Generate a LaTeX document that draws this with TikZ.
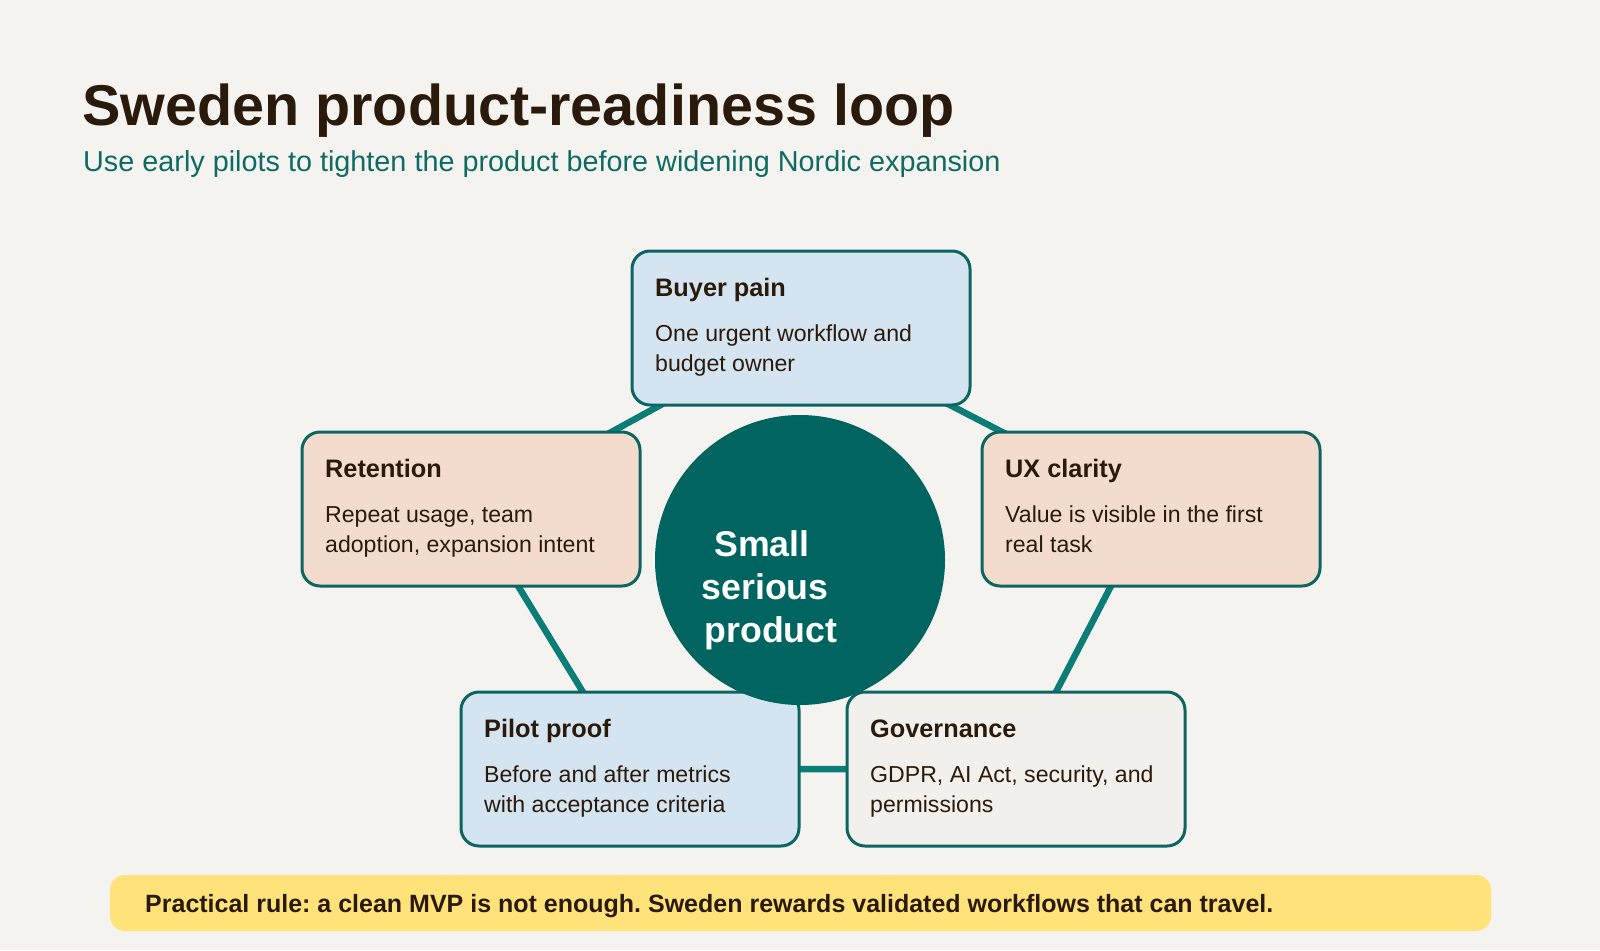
\documentclass[tikz,border=0pt]{standalone}
\usepackage{fontspec}
\setmainfont{Liberation Sans}
\frenchspacing
\pgfdeclarelayer{bg}
\pgfdeclarelayer{edges}
\pgfsetlayers{bg,edges,main}
\definecolor{bgc}{HTML}{F5F3EF}
\definecolor{titlec}{HTML}{2A1A0B}
\definecolor{subc}{HTML}{0E6B63}
\definecolor{bluec}{HTML}{D4E4F1}
\definecolor{peachc}{HTML}{F3DCCE}
\definecolor{grayc}{HTML}{F2F0EC}
\definecolor{borderc}{HTML}{0D6562}
\definecolor{connc}{HTML}{0A7D76}
\definecolor{circc}{HTML}{006560}
\definecolor{yellowc}{HTML}{FFE27A}
\tikzset{
  cardbox/.style={draw=borderc, line width=3pt, rounded corners=18pt,
    minimum width=338pt, minimum height=154pt, inner sep=0pt, outer sep=0pt,
    anchor=north west},
  cardtitle/.style={anchor=base west, inner sep=0pt, text=titlec,
    font=\fontsize{25.3}{30}\selectfont\bfseries},
  cardbody/.style={anchor=base west, inner sep=0pt, text=titlec,
    font=\fontsize{23.1}{30}\selectfont},
  conn/.style={draw=connc, line width=6.5pt},
  coretext/.style={anchor=base, inner sep=0pt, text=white,
    font=\fontsize{35.7}{40}\selectfont\bfseries},
}
\newcommand\mkcard[7]{%
  \node[cardbox, fill=#4] (#1) at (#2,#3) {};
  \node[cardtitle] (#1-t) at ([xshift=23pt,yshift=-45pt]#1.north west) {#5};
  \node[cardbody] (#1-a) at ([xshift=23pt,yshift=-90pt]#1.north west) {#6};
  \node[cardbody] (#1-b) at ([xshift=23pt,yshift=-120pt]#1.north west) {#7};
}
\begin{document}
\begin{tikzpicture}[x=1pt,y=-1pt]
\begin{pgfonlayer}{bg}
  \fill[bgc] (0,0) rectangle (1600,950);
\end{pgfonlayer}
\useasboundingbox (0,0) rectangle (1600,950);

\node[anchor=base west, inner sep=0pt, text=titlec,
  font=\fontsize{57.5}{64}\selectfont\bfseries] (title) at (82,125)
  {Sweden product-readiness loop};
\node[anchor=base west, inner sep=0pt, text=subc,
  font=\fontsize{28.8}{32}\selectfont] (subtitle) at (83,171)
  {Use early pilots to tighten the product before widening Nordic expansion};

\mkcard{buyer}{632}{251}{bluec}{Buyer pain}{One urgent workflow and}{budget owner}
\mkcard{retention}{302}{432}{peachc}{Retention}{Repeat usage, team}{adoption, expansion intent}
\mkcard{ux}{982}{432}{peachc}{UX clarity}{Value is visible in the first}{real task}
\mkcard{pilot}{461}{692}{bluec}{Pilot proof}{Before and after metrics}{with acceptance criteria}

\node[circle, fill=circc, minimum size=290pt, inner sep=0pt] (core) at (800,560) {};
\node[coretext] (core-a) at (762,556) {Small};
\node[coretext] (core-b) at (765,599) {serious};
\node[coretext] (core-c) at (771,642) {product};

\mkcard{gov}{847}{692}{grayc}{Governance}{GDPR, AI Act, security, and}{permissions}

\begin{pgfonlayer}{edges}
  \draw[conn] (buyer.center) -- (ux.center) -- (gov.center) -- (pilot.center)
    -- (retention.center) -- cycle;
\end{pgfonlayer}

\node[fill=yellowc, rounded corners=15pt, minimum width=1381pt, minimum height=56pt,
  inner sep=0pt, outer sep=0pt, anchor=north west] (rule) at (110,875) {};
\node[anchor=base west, inner sep=0pt, text=titlec,
  font=\fontsize{25}{28}\selectfont\bfseries] (rule-t) at (145,912)
  {Practical rule: a clean MVP is not enough. Sweden rewards validated workflows that can travel.};
\end{tikzpicture}
\end{document}
